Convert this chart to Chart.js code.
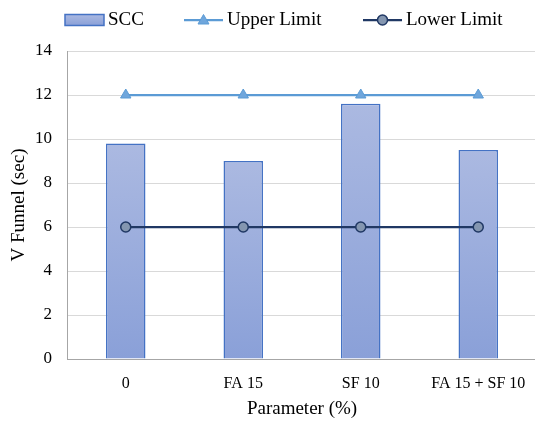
<!DOCTYPE html>
<html>
<head>
<meta charset="utf-8">
<script src="https://cdn.jsdelivr.net/npm/chart.js@4/dist/chart.umd.min.js"></script>
<style>
  html, body { margin: 0; padding: 0; background: #ffffff; overflow: hidden; }
  #wrap { width: 537px; height: 421px; }
</style>
</head>
<body>
<div id="wrap"><canvas id="chart"></canvas></div>
<script>
// Mix parameters (categories)
const categories = ['0', 'FA 15', 'SF 10', 'FA 15 + SF 10'];
// V-funnel flow time of each SCC mix, seconds
const sccValues = [9.8, 9.0, 11.6, 9.5];
// Acceptance limits for V-funnel time, seconds
const upperLimit = [12, 12, 12, 12];
const lowerLimit = [6, 6, 6, 6];
// Y axis range
const yMin = 0, yMax = 14, yStep = 2;

const FONT = '"Liberation Serif", "Times New Roman", serif';
const BAR_TOP = '#abb9e1';
const BAR_BOTTOM = '#8aa0d8';
const BAR_EDGE = '#4472c4';
const UPPER = '#5b9bd5';
const UPPER_FILL = '#6fa6dc';
const LOWER = '#203864';
const LOWER_FILL = '#8496b0';

function barFill(ctx) {
  const chart = ctx.chart;
  const y = chart.scales && chart.scales.y;
  if (!chart.chartArea || !y || ctx.parsed === undefined) return BAR_BOTTOM;
  const top = y.getPixelForValue(ctx.parsed.y);
  const bottom = y.getPixelForValue(0);
  const g = chart.ctx.createLinearGradient(0, top, 0, bottom);
  g.addColorStop(0, BAR_TOP);
  g.addColorStop(1, BAR_BOTTOM);
  return g;
}

// Legend row: symbol (box or line with marker) followed by the series name
const legendItems = [
  { dataset: 2, kind: 'bar', x: 65 },
  { dataset: 0, kind: 'upper', x: 184 },
  { dataset: 1, kind: 'lower', x: 363 }
];
const LEGEND_Y = 20;
const SYMBOL_W = 39;

const seriesLegend = {
  id: 'seriesLegend',
  afterDraw(chart) {
    const g = chart.ctx;
    g.save();
    legendItems.forEach(item => {
      const x = item.x, y = LEGEND_Y;
      if (item.kind === 'bar') {
        const grd = g.createLinearGradient(0, y - 5.5, 0, y + 5.5);
        grd.addColorStop(0, BAR_TOP);
        grd.addColorStop(1, BAR_BOTTOM);
        g.fillStyle = grd;
        g.fillRect(x, y - 5.5, SYMBOL_W, 11);
        g.strokeStyle = BAR_EDGE;
        g.lineWidth = 1.5;
        g.strokeRect(x, y - 5.5, SYMBOL_W, 11);
      } else {
        const up = item.kind === 'upper';
        g.strokeStyle = up ? UPPER : LOWER;
        g.lineWidth = 2.25;
        g.beginPath(); g.moveTo(x, y); g.lineTo(x + SYMBOL_W, y); g.stroke();
        const cx = x + SYMBOL_W / 2;
        g.beginPath();
        if (up) {
          g.moveTo(cx, y - 5.5); g.lineTo(cx + 5.5, y + 4); g.lineTo(cx - 5.5, y + 4); g.closePath();
          g.fillStyle = UPPER_FILL; g.lineWidth = 1;
        } else {
          g.arc(cx, y, 5, 0, Math.PI * 2);
          g.fillStyle = LOWER_FILL; g.lineWidth = 1.5;
        }
        g.fill(); g.stroke();
      }
      g.fillStyle = '#000000';
      g.font = '19px ' + FONT;
      g.textBaseline = 'middle';
      g.textAlign = 'left';
      g.fillText(chart.data.datasets[item.dataset].label, x + SYMBOL_W + 4, y);
    });
    g.restore();
  }
};

new Chart(document.getElementById('chart'), {
  data: {
    labels: categories,
    datasets: [
      {
        type: 'line',
        label: 'Upper Limit',
        data: upperLimit,
        borderColor: UPPER,
        borderWidth: 2.25,
        backgroundColor: UPPER_FILL,
        pointStyle: 'triangle',
        pointRadius: 6,
        pointBorderColor: UPPER,
        pointBorderWidth: 1,
        order: 1
      },
      {
        type: 'line',
        label: 'Lower Limit',
        data: lowerLimit,
        borderColor: LOWER,
        borderWidth: 2.25,
        backgroundColor: LOWER_FILL,
        pointStyle: 'circle',
        pointRadius: 5,
        pointBorderColor: LOWER,
        pointBorderWidth: 1.5,
        order: 0
      },
      {
        type: 'bar',
        label: 'SCC',
        data: sccValues,
        backgroundColor: barFill,
        borderColor: BAR_EDGE,
        borderWidth: 1.5,
        barPercentage: 0.336,
        categoryPercentage: 1,
        order: 2
      }
    ]
  },
  options: {
    responsive: true,
    maintainAspectRatio: false,
    animation: false,
    layout: { autoPadding: false, padding: { top: 51, right: 0, left: 0, bottom: 0 } },
    plugins: {
      tooltip: { enabled: false },
      legend: { display: false }
    },
    scales: {
      x: {
        grid: { display: false, drawTicks: false },
        border: { color: '#a6a6a6', width: 1 },
        ticks: { color: '#000000', font: { family: FONT, size: 16 }, padding: 15, maxRotation: 0 },
        title: { display: true, text: 'Parameter (%)', color: '#000000', font: { family: FONT, size: 19 }, padding: { top: 2, bottom: 1 } },
        afterFit: (s) => { s.height = 62; s.paddingLeft = 0; s.paddingRight = 0; }
      },
      y: {
        min: yMin,
        max: yMax,
        grid: { color: '#d9d9d9', lineWidth: 1, drawTicks: false },
        border: { color: '#a6a6a6', width: 1 },
        ticks: { stepSize: yStep, color: '#000000', font: { family: FONT, size: 17 }, padding: 15 },
        title: { display: true, text: 'V Funnel (sec)', color: '#000000', font: { family: FONT, size: 19 }, padding: { top: 8, bottom: 0 } },
        afterFit: (s) => { s.width = 67; s.paddingTop = 0; s.paddingBottom = 0; }
      }
    }
  },
  plugins: [seriesLegend]
});
</script>
</body>
</html>
